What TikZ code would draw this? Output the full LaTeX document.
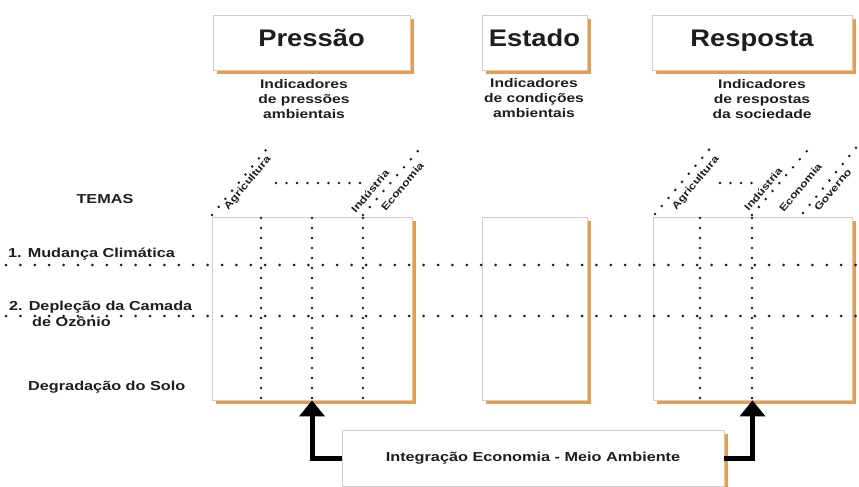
\documentclass[tikz,border=0pt]{standalone}
\usepackage{fontspec}
\newfontfamily\labfont[FakeStretch=1.25]{Liberation Sans}
\newfontfamily\titfont[FakeStretch=1.14]{Liberation Sans}
\usetikzlibrary{arrows.meta,shadows}
\definecolor{boxorange}{RGB}{232,156,76}
\definecolor{boxgray}{RGB}{205,205,205}
\definecolor{ink}{RGB}{30,30,30}
\definecolor{dotc}{RGB}{30,30,30}
\begin{document}
\begin{tikzpicture}[x=1pt,y=-1pt,
  panel/.style={draw=boxgray, line width=0.8pt, fill=white, inner sep=0pt,
    drop shadow={shadow xshift=4pt, shadow yshift=-4pt, fill=boxorange, opacity=1}},
  titlebox/.style={panel, minimum height=55pt, text=ink, text height=16pt, text depth=7pt,
    font=\titfont\bfseries\fontsize{24}{28}\selectfont},
  gridbox/.style={panel, minimum height=183pt},
  subtxt/.style={align=center, inner sep=0pt, text=ink,
    font=\labfont\bfseries\fontsize{12.5}{15}\selectfont},
  lbl/.style={inner sep=0pt, text=ink, font=\labfont\bfseries\fontsize{13}{16}\selectfont},
  rlbl/.style={inner sep=0pt, text=ink, rotate=50, anchor=south west,
    font=\labfont\bfseries\fontsize{10}{12}\selectfont},
  dotsH/.style={dotc, line width=3pt, line cap=round, dash pattern=on 0pt off 14.4pt},
  dotsV/.style={dotc, line width=2.8pt, line cap=round, dash pattern=on 0pt off 10pt},
  dotsD/.style={dotc, line width=2.8pt, line cap=round, dash pattern=on 0pt off 10.5pt},
  arrowline/.style={line width=5pt, black, -{Triangle[width=25pt,length=16pt]}}
]
\useasboundingbox[fill=white] (0,0) rectangle (859,487);

% top title boxes
\node[titlebox, minimum width=197pt] (tP) at (311.5,42.5) {Pressão};
\node[titlebox, minimum width=105pt] (tE) at (534.5,42.5) {Estado};
\node[titlebox, minimum width=200pt] (tR) at (752,42.5) {Resposta};

% subtitles
\node[subtxt] (sP) at (304,99) {Indicadores\\de pressões\\ambientais};
\node[subtxt] (sE) at (534,98) {Indicadores\\de condições\\ambientais};
\node[subtxt] (sR) at (762,99) {Indicadores\\de respostas\\da sociedade};

% grid boxes
\node[gridbox, minimum width=200pt] (gP) at (312,308.5) {};
\node[gridbox, minimum width=105pt] (gE) at (534.5,308.5) {};
\node[gridbox, minimum width=199pt] (gR) at (752.5,308.5) {};

% left theme labels
\node[lbl] (temas) at (105,199) {TEMAS};
\node[lbl, anchor=west] (t1) at (8,254) {1. Mudança Climática};
\node[lbl, anchor=west, align=left] (t2) at (9,314) {2. Depleção da Camada\\\hspace*{23pt}de Ozônio};
\node[lbl, anchor=west] (t3) at (28,387) {Degradação do Solo};

% vertical dotted lines inside grids
\foreach \xx in {261,312,363} \draw[dotsV] (\xx,218) -- (\xx,400);
\foreach \xx in {700,752} \draw[dotsV] (\xx,218) -- (\xx,400);

% horizontal dotted theme lines
\draw[dotsH] (6,265) -- (859,265);
\draw[dotsH] (6,316) -- (859,316);

% perspective dotted lines (Pressao)
\draw[dotsD] (212,215) -- (270,145);
\draw[dotsD] (363,215) -- (423,145);
\draw[dotsD] (276,183) -- (366,183);
% perspective dotted lines (Resposta)
\draw[dotsD] (655,214) -- (713,145);
\draw[dotsD] (752,215) -- (812,145);
\draw[dotsD] (803,213) -- (859,144);
\draw[dotsD] (720,183) -- (760,183);

% rotated sector labels
\node[rlbl] (aP) at (230,212) {Agricultura};
\node[rlbl] (iP) at (356,214) {Indústria};
\node[rlbl] (eP) at (386,212) {Economia};
\node[rlbl] (aR) at (678,212) {Agricultura};
\node[rlbl] (iR) at (749,212) {Indústria};
\node[rlbl] (eR) at (784,213) {Economia};
\node[rlbl] (gvR) at (819,212) {Governo};

% bottom box
\node[panel, minimum width=382pt, minimum height=56pt, text=ink,
  font=\labfont\bfseries\fontsize{13}{16}\selectfont] (bot) at (533,458) {Integração Economia - Meio Ambiente};

% arrows
\draw[arrowline] (bot.west) -| (gP.south);
\draw[arrowline] (bot.east) -| (gR.south);
\end{tikzpicture}
\end{document}
